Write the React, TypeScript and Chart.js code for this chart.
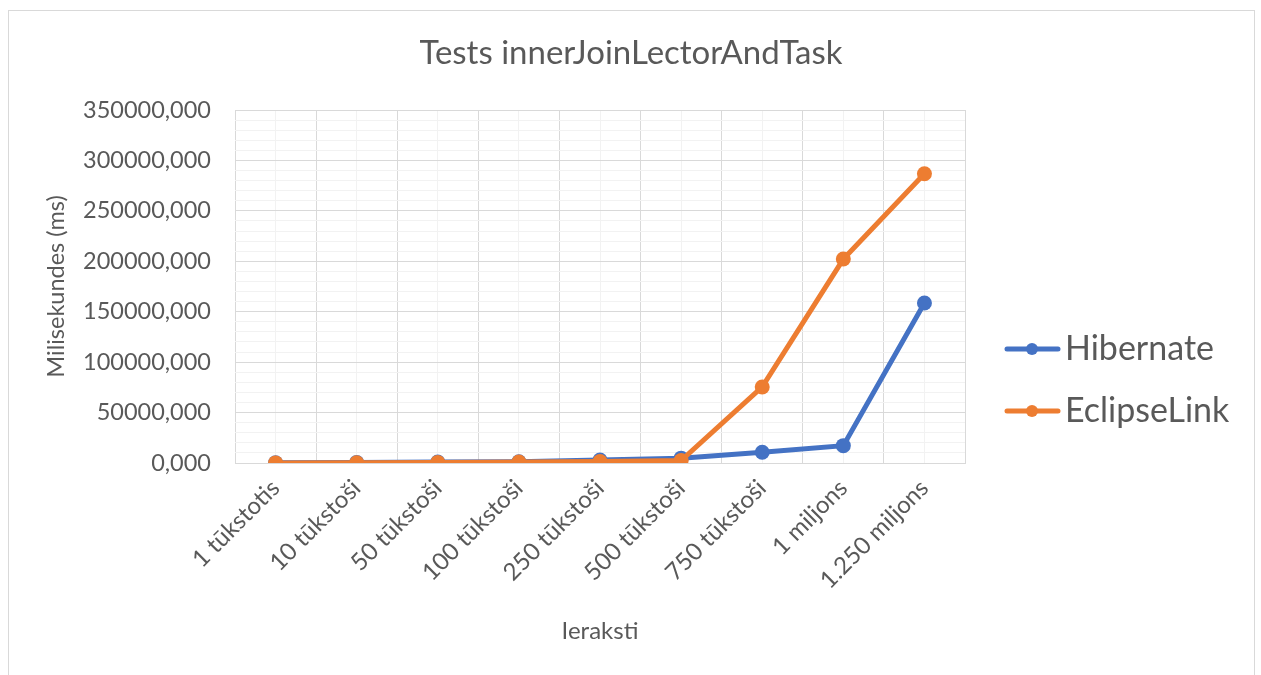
import React, { useEffect, useRef } from "react";
import { Chart, registerables } from "chart.js";

Chart.register(...registerables);

const categories = [
  "1 tūkstotis",
  "10 tūkstoši",
  "50 tūkstoši",
  "100 tūkstoši",
  "250 tūkstoši",
  "500 tūkstoši",
  "750 tūkstoši",
  "1 miljons",
  "1.250 miljons",
];
const hibernate = [300, 600, 1000, 1300, 3000, 4800, 10600, 17200, 158600];
const eclipseLink = [100, 300, 600, 900, 1500, 2500, 75400, 202200, 286800];

const chartTitle = "Tests innerJoinLectorAndTask";
const yTitle = "Milisekundes (ms)";
const xTitle = "Ieraksti";

const yMax = 350000;
const yMinorStep = 10000;
const yMajorStep = 50000;

const FONT = "Lato";
const TEXT = "#595959";

export default function App() {
  const ref = useRef<HTMLCanvasElement | null>(null);

  useEffect(() => {
    if (!ref.current) return;

    const framePlugin = {
      id: "frame",
      beforeDraw(chart: any) {
        const c = chart.ctx;
        c.save();
        c.fillStyle = "#ffffff";
        c.fillRect(0, 0, chart.width, chart.height);
        c.strokeStyle = "#d9d9d9";
        c.lineWidth = 1;
        c.strokeRect(8.5, 10.5, 1246, 700);
        c.fillStyle = TEXT;
        c.font = `33px ${FONT}`;
        c.textAlign = "center";
        c.textBaseline = "alphabetic";
        c.fillText(chartTitle, 631, 64);
        c.restore();
      },
    };

    const legendPlugin = {
      id: "excelLegend",
      afterDraw(chart: any) {
        const c = chart.ctx;
        const lineYs = [349, 411];
        chart.data.datasets.forEach((ds: any, i: number) => {
          const y = lineYs[i];
          c.save();
          c.strokeStyle = ds.borderColor;
          c.lineWidth = 5;
          c.lineCap = "round";
          c.beginPath();
          c.moveTo(1007, y);
          c.lineTo(1058, y);
          c.stroke();
          c.fillStyle = ds.borderColor;
          c.beginPath();
          c.arc(1032, y, 6, 0, Math.PI * 2);
          c.fill();
          c.fillStyle = TEXT;
          c.font = `34px ${FONT}`;
          c.textBaseline = "alphabetic";
          c.textAlign = "left";
          c.fillText(ds.label, 1065, y + 11);
          c.restore();
        });
      },
    };

    const chart = new Chart(ref.current, {
      type: "line",
      data: {
        labels: categories,
        datasets: [
          {
            label: "Hibernate",
            data: hibernate,
            borderColor: "#4472C4",
            backgroundColor: "#4472C4",
            borderWidth: 5,
            pointRadius: 7.5,
            pointHoverRadius: 7.5,
            pointBorderWidth: 0,
            tension: 0,
            order: 1,
          },
          {
            label: "EclipseLink",
            data: eclipseLink,
            borderColor: "#ED7D31",
            backgroundColor: "#ED7D31",
            borderWidth: 5,
            pointRadius: 7.5,
            pointHoverRadius: 7.5,
            pointBorderWidth: 0,
            tension: 0,
            order: 0,
          },
        ],
      },
      options: {
        responsive: false,
        animation: false,
        layout: { padding: { left: 10, top: 110, right: 296, bottom: 25 } },
        plugins: {
          legend: { display: false },
          tooltip: { enabled: false },
          title: { display: false },
        },
        scales: {
          x2: {
            type: "category",
            position: "bottom",
            offset: true,
            weight: -1,
            grid: { offset: false, color: "#f2f2f2", drawTicks: false, lineWidth: 1 },
            border: { display: false },
            ticks: { display: false },
            afterFit(scale: any) {
              scale.height = 0;
            },
          },
          x: {
            type: "category",
            offset: true,
            grid: { offset: true, color: "#d9d9d9", drawTicks: false, lineWidth: 1 },
            border: { display: true, color: "#d9d9d9", width: 1 },
            ticks: {
              color: TEXT,
              font: { family: FONT, size: 24 },
              maxRotation: 45,
              minRotation: 45,
              padding: 11,
              autoSkip: false,
            },
            title: {
              display: true,
              text: xTitle,
              color: TEXT,
              font: { family: FONT, size: 24 },
              padding: { top: 4, bottom: 4 },
            },
            afterFit(scale: any) {
              scale.height = 187;
            },
          },
          y: {
            min: 0,
            max: yMax,
            grid: {
              drawTicks: false,
              color: (ctx: any) =>
                ctx.tick && ctx.tick.value % yMajorStep === 0 ? "#d9d9d9" : "#f2f2f2",
              lineWidth: 1,
            },
            border: { display: false },
            ticks: {
              stepSize: yMinorStep,
              autoSkip: false,
              color: TEXT,
              font: { family: FONT, size: 23.5 },
              padding: 24,
              callback: (v: any) => (Number(v) % yMajorStep === 0 ? `${v},000` : ""),
            },
            title: {
              display: true,
              text: yTitle,
              color: TEXT,
              font: { family: FONT, size: 23.5 },
              padding: { top: 32, bottom: 4 },
            },
            afterFit(scale: any) {
              scale.width = 225;
            },
          },
        },
      },
      plugins: [framePlugin, legendPlugin],
    });

    return () => chart.destroy();
  }, []);

  return (
    <div style={{ position: "absolute", left: 0, top: 0, width: 1261, height: 675 }}>
      <canvas ref={ref} width={1261} height={675} style={{ display: "block" }} />
    </div>
  );
}
